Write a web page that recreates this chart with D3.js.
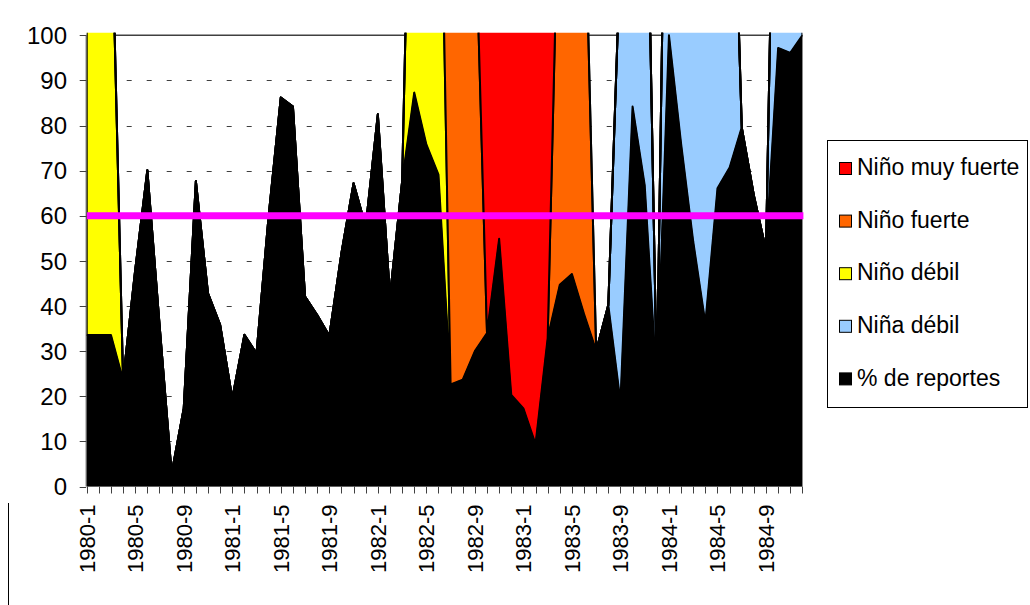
<!DOCTYPE html>
<html>
<head>
<meta charset="utf-8">
<script src="https://cdn.jsdelivr.net/npm/d3@7"></script>
<style>
  html, body { margin: 0; padding: 0; background: #fff; }
  svg { display: block; font-family: "Liberation Sans", Arial, sans-serif; }
</style>
</head>
<body>
<svg id="chart" width="1030" height="605"></svg>
<script>
// Monthly categories 1980-1 … 1984-12
const years = [1980, 1981, 1982, 1983, 1984];
const months = [1, 2, 3, 4, 5, 6, 7, 8, 9, 10, 11, 12];
const categories = years.flatMap(yr => months.map(m => `${yr}-${m}`));

// Labels shown on the horizontal axis (every fourth month)
const tickLabels = ["1980-1", "1980-5", "1980-9", "1981-1", "1981-5", "1981-9", "1982-1", "1982-5",
                    "1982-9", "1983-1", "1983-5", "1983-9", "1984-1", "1984-5", "1984-9"];
const yTicks = [0, 10, 20, 30, 40, 50, 60, 70, 80, 90, 100];

// % de reportes (one row per year)
const reportes = [
  33.6, 33.6, 33.6, 23.6, 48, 70.1, 36, 2.9, 17.3, 67.7, 42.8, 35.8,
  19.5, 33.6, 29.5, 60, 86.2, 84.2, 42.1, 38, 33.4, 51.7, 67.2, 57.6,
  82.5, 42.1, 67.5, 87.3, 75.8, 69.1, 22.6, 23.7, 30, 34, 54.9, 20.3,
  17.3, 9.4, 32.9, 44.7, 47.1, 38.2, 30.1, 40.2, 18.8, 84.2, 66.8, 22.5,
  100, 76, 54.3, 36.2, 66.1, 70.7, 79.6, 64.5, 52.4, 97.2, 96.1, 100
];

// ENSO phases: 100 in the months where the phase is active
const ninaDebil = [
  0, 0, 0, 0, 0, 0, 0, 0, 0, 0, 0, 0,
  0, 0, 0, 0, 0, 0, 0, 0, 0, 0, 0, 0,
  0, 0, 0, 0, 0, 0, 0, 0, 0, 0, 0, 0,
  0, 0, 0, 0, 0, 0, 0, 0, 100, 100, 100, 0,
  100, 100, 100, 100, 100, 100, 0, 0, 0, 100, 100, 100
];
const ninoDebil = [
  100, 100, 100, 0, 0, 0, 0, 0, 0, 0, 0, 0,
  0, 0, 0, 0, 0, 0, 0, 0, 0, 0, 0, 0,
  0, 0, 0, 100, 100, 100, 0, 0, 0, 0, 0, 0,
  0, 0, 0, 0, 0, 0, 0, 0, 0, 0, 0, 0,
  0, 0, 0, 0, 0, 0, 0, 0, 0, 0, 0, 0
];
const ninoFuerte = [
  0, 0, 0, 0, 0, 0, 0, 0, 0, 0, 0, 0,
  0, 0, 0, 0, 0, 0, 0, 0, 0, 0, 0, 0,
  0, 0, 0, 0, 0, 0, 100, 100, 100, 0, 0, 0,
  0, 0, 0, 100, 100, 100, 0, 0, 0, 0, 0, 0,
  0, 0, 0, 0, 0, 0, 0, 0, 0, 0, 0, 0
];
const ninoMuyFuerte = [
  0, 0, 0, 0, 0, 0, 0, 0, 0, 0, 0, 0,
  0, 0, 0, 0, 0, 0, 0, 0, 0, 0, 0, 0,
  0, 0, 0, 0, 0, 0, 0, 0, 0, 100, 100, 100,
  100, 100, 100, 0, 0, 0, 0, 0, 0, 0, 0, 0,
  0, 0, 0, 0, 0, 0, 0, 0, 0, 0, 0, 0
];

const umbral = 60;

// Stack order from bottom to top, with fills
const layers = [
  { key: "reportes",      label: "% de reportes",   color: "#000000", values: reportes },
  { key: "ninaDebil",     label: "Niña débil",      color: "#99CCFF", values: ninaDebil },
  { key: "ninoDebil",     label: "Niño débil",      color: "#FFFF00", values: ninoDebil },
  { key: "ninoFuerte",    label: "Niño fuerte",     color: "#FF6600", values: ninoFuerte },
  { key: "ninoMuyFuerte", label: "Niño muy fuerte", color: "#FF0000", values: ninoMuyFuerte }
];

const rows = categories.map((c, i) => {
  const r = { cat: c };
  layers.forEach(l => { r[l.key] = l.values[i]; });
  return r;
});

const svg = d3.select("#chart");
const plotLeft = 86.7, plotRight = 802.4, plotTop = 35.3, plotBottom = 486.5;

const x = d3.scalePoint().domain(categories).range([plotLeft, plotRight]);
const y = d3.scaleLinear().domain([0, 100]).range([plotBottom, plotTop]);

// Dashed horizontal gridlines
svg.append("g")
  .selectAll("line")
  .data(yTicks.filter(v => v > 0 && v < 100))
  .join("line")
  .attr("x1", plotLeft).attr("x2", plotRight)
  .attr("y1", d => Math.round(y(d)) + 0.5).attr("y2", d => Math.round(y(d)) + 0.5)
  .attr("stroke", "#404040")
  .attr("stroke-dasharray", "5,15");

// Plot-area top edge
svg.append("line")
  .attr("x1", plotLeft).attr("x2", plotRight)
  .attr("y1", y(100)).attr("y2", y(100))
  .attr("stroke", "#404040").attr("stroke-width", 1.5);

svg.append("defs").append("clipPath").attr("id", "plotClip")
  .append("rect")
  .attr("x", plotLeft).attr("y", plotTop - 2.5)
  .attr("width", plotRight - plotLeft).attr("height", plotBottom - plotTop + 2.5);

const stacked = d3.stack().keys(layers.map(l => l.key))(rows);

const area = d3.area()
  .x(d => x(d.data.cat))
  .y0(d => y(d[0]))
  .y1(d => y(d[1]));

const plot = svg.append("g").attr("clip-path", "url(#plotClip)");

// Phase bands first, then the black series
stacked.slice(1).forEach((s, k) => {
  plot.append("path")
    .datum(s)
    .attr("d", area)
    .attr("fill", layers[k + 1].color)
    .attr("stroke", "#000")
    .attr("stroke-width", 2)
    .attr("stroke-linejoin", "round");
});
plot.append("path")
  .datum(stacked[0])
  .attr("d", area)
  .attr("fill", "#000")
  .attr("stroke", "#000")
  .attr("stroke-width", 1);

// Threshold line at 60 %
svg.append("line")
  .attr("x1", plotLeft).attr("x2", plotRight + 1)
  .attr("y1", y(umbral)).attr("y2", y(umbral))
  .attr("stroke", "#FF00FF").attr("stroke-width", 7);

// Vertical axis
const axisColor = "#404040";
const yAxis = svg.append("g");
yAxis.append("line")
  .attr("x1", plotLeft - 0.5).attr("x2", plotLeft - 0.5)
  .attr("y1", y(100)).attr("y2", y(0))
  .attr("stroke", axisColor);
yAxis.selectAll("line.tick")
  .data(yTicks)
  .join("line")
  .attr("class", "tick")
  .attr("x1", plotLeft - 7).attr("x2", plotLeft - 0.5)
  .attr("y1", d => Math.round(y(d)) + 0.5).attr("y2", d => Math.round(y(d)) + 0.5)
  .attr("stroke", axisColor);
yAxis.selectAll("text")
  .data(yTicks)
  .join("text")
  .attr("x", 67).attr("y", d => y(d))
  .attr("dy", "0.36em")
  .attr("text-anchor", "end")
  .attr("font-size", 24)
  .attr("fill", "#000")
  .text(d => d);

// Horizontal axis ticks and labels
const xAxis = svg.append("g");
xAxis.selectAll("line")
  .data(categories)
  .join("line")
  .attr("x1", d => Math.round(x(d)) + 0.5).attr("x2", d => Math.round(x(d)) + 0.5)
  .attr("y1", plotBottom).attr("y2", plotBottom + 7)
  .attr("stroke", axisColor);
xAxis.selectAll("text")
  .data(tickLabels)
  .join("text")
  .attr("transform", d => `translate(${x(d)},${plotBottom + 18}) rotate(-90)`)
  .attr("dy", "0.36em")
  .attr("text-anchor", "end")
  .attr("font-size", 22)
  .attr("fill", "#000")
  .text(d => d);

// Legend
const legend = svg.append("g");
legend.append("rect")
  .attr("x", 827.5).attr("y", 140.5)
  .attr("width", 200).attr("height", 267)
  .attr("fill", "#fff").attr("stroke", "#000");
const legendItems = layers.slice().reverse();
const li = legend.selectAll("g.item")
  .data(legendItems)
  .join("g")
  .attr("class", "item")
  .attr("transform", (d, i) => `translate(0,${167 + i * 52.6})`);
li.append("rect")
  .attr("x", 839.5).attr("y", -4.5)
  .attr("width", 12).attr("height", 12)
  .attr("fill", d => d.color)
  .attr("stroke", "#000");
li.append("text")
  .attr("x", 857).attr("y", 0)
  .attr("dy", "0.36em")
  .attr("font-size", 23)
  .attr("fill", "#000")
  .text(d => d.label);

// Chart frame edge
svg.append("line")
  .attr("x1", 8.5).attr("x2", 8.5)
  .attr("y1", 503).attr("y2", 605)
  .attr("stroke", "#000");
</script>
</body>
</html>
